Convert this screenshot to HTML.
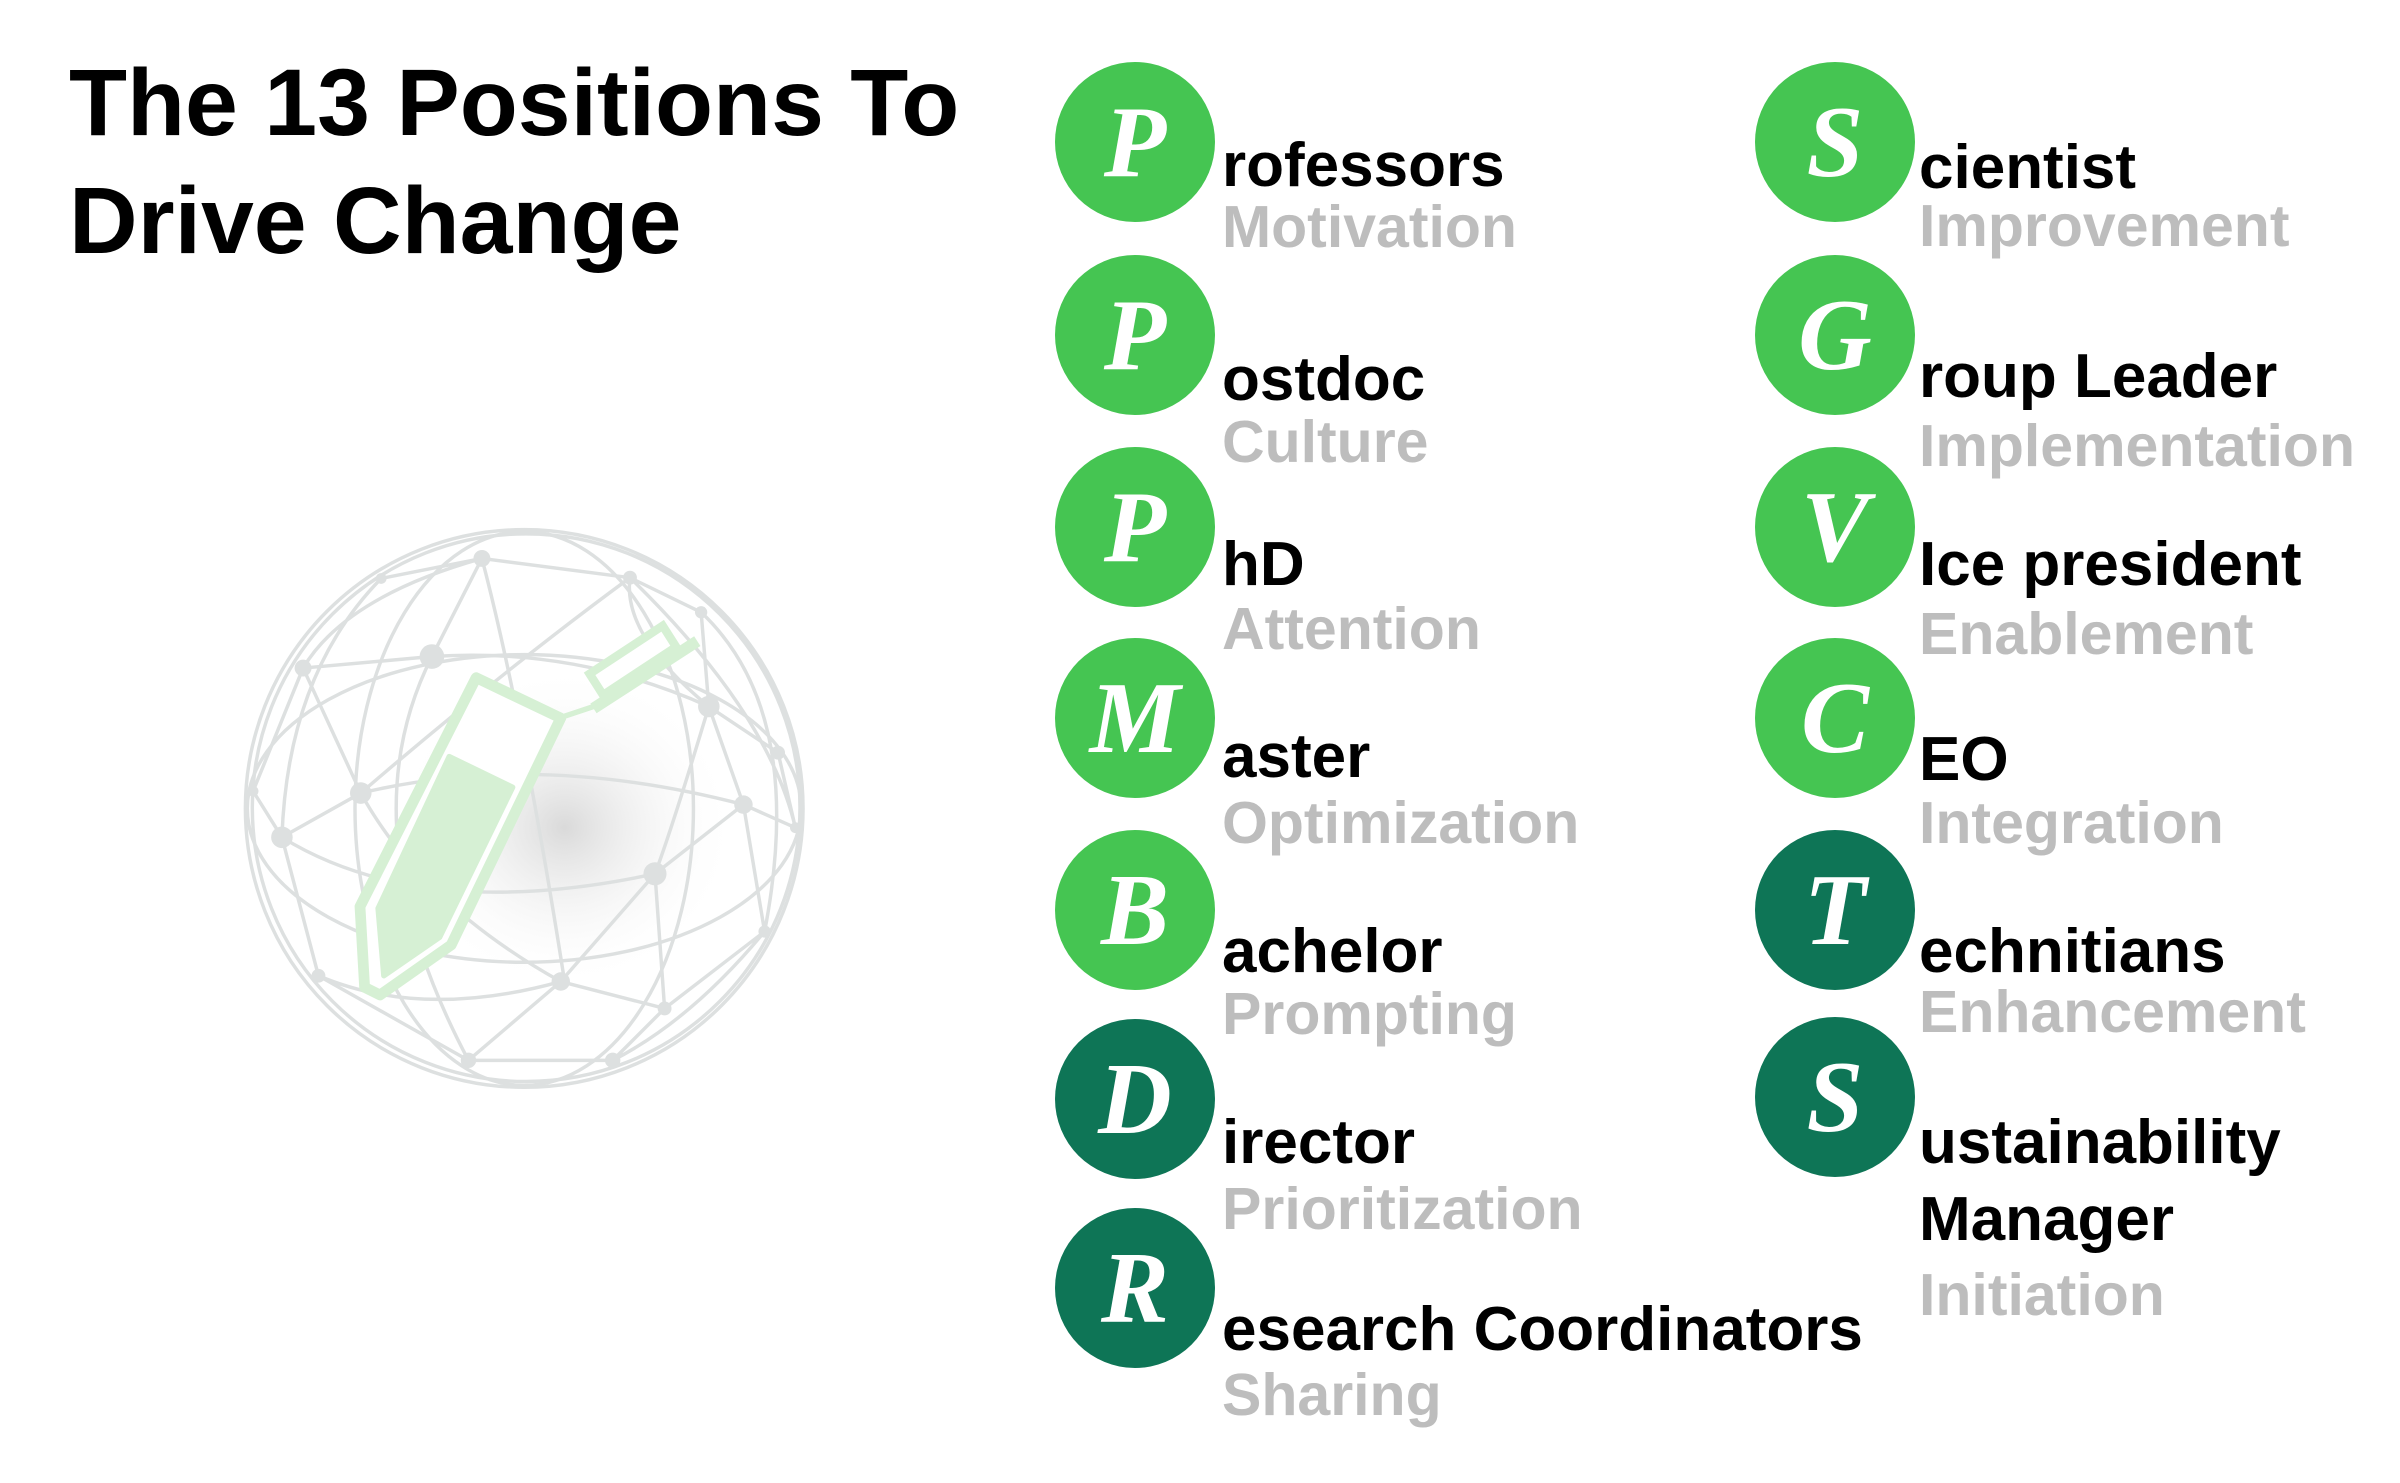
<!DOCTYPE html>
<html><head><meta charset="utf-8"><style>
html,body{margin:0;padding:0;background:#fff;}
svg{display:block;}
.t{font-family:"Liberation Sans",sans-serif;font-weight:bold;}
.b{font-size:62px;fill:#000;}
.g{font-size:59px;fill:#bdbdbd;}
.L{font-family:"Liberation Serif",serif;font-style:italic;font-weight:bold;font-size:102px;fill:#fff;}
</style></head><body>
<svg width="2400" height="1483" viewBox="0 0 2400 1483" xmlns="http://www.w3.org/2000/svg">
<rect width="2400" height="1483" fill="#fff"/>
<text class="t" x="69" y="135" font-size="95" fill="#000">The 13 Positions To</text>
<text class="t" x="69" y="253" font-size="95" fill="#000">Drive Change</text>

<defs><radialGradient id="sh" cx="0.5" cy="0.5" r="0.5">
<stop offset="0" stop-color="#d0d0d0" stop-opacity="0.8"/><stop offset="1" stop-color="#fff" stop-opacity="0"/></radialGradient></defs>
<g transform="translate(230,520) scale(0.3846)" fill="none" stroke="#dde0e0" stroke-width="9">
<ellipse cx="870" cy="800" rx="450" ry="420" fill="url(#sh)" stroke="none"/>
<circle cx="765" cy="750" r="725"/>
<circle cx="770" cy="748" r="712"/>
<ellipse cx="765" cy="750" rx="440" ry="720"/>
<ellipse cx="765" cy="750" rx="720" ry="400"/>
<path d="M655 100 L393 152 M655 100 L1040 150 M1040 150 L1225 240 M655 100 L525 355 M655 100 Q760 500 870 1200 M525 355 L190 385 M525 355 Q900 330 1245 485 M1040 150 Q700 400 340 710 M1040 150 Q1020 300 1245 485 M1225 240 L1245 485 M1245 485 L1425 605 M1245 485 L1335 740 M1245 485 Q1150 800 1105 920 M190 385 L60 705 M190 385 L340 710 M190 385 Q300 200 655 100 M340 710 L135 825 M340 710 Q800 600 1335 740 M340 710 Q500 1000 860 1200 M1335 740 L1470 800 M1335 740 L1105 920 M1335 740 L1390 1070 M1425 605 L1470 800 M135 825 L230 1185 M135 825 Q500 1050 1105 920 M1105 920 L860 1200 M1105 920 L1130 1270 M1390 1070 L1130 1270 M1390 1070 Q1200 1300 995 1405 M860 1200 L620 1405 M860 1200 L1130 1270 M860 1200 Q500 1300 230 1185 M620 1405 L995 1405 M230 1185 L620 1405 M1130 1270 L995 1405 M60 705 L135 825 M393 152 Q150 400 135 825 M1225 240 Q1500 500 1390 1070 M525 355 Q300 800 620 1405 M1040 150 Q1400 500 1470 800"/>
<g fill="#dde0e0" stroke="none">
<circle cx="655" cy="100" r="22"/><circle cx="393" cy="152" r="14"/><circle cx="1040" cy="150" r="18"/><circle cx="1225" cy="240" r="16"/><circle cx="525" cy="355" r="32"/><circle cx="190" cy="385" r="22"/><circle cx="1245" cy="485" r="28"/><circle cx="1425" cy="605" r="18"/><circle cx="60" cy="705" r="14"/><circle cx="340" cy="710" r="28"/><circle cx="1335" cy="740" r="24"/><circle cx="135" cy="825" r="28"/><circle cx="1470" cy="800" r="14"/><circle cx="1105" cy="920" r="30"/><circle cx="1390" cy="1070" r="16"/><circle cx="230" cy="1185" r="18"/><circle cx="860" cy="1200" r="24"/><circle cx="1130" cy="1270" r="18"/><circle cx="620" cy="1405" r="20"/><circle cx="995" cy="1405" r="20"/>
</g>
<path d="M640 410 L860 515 L575 1105 L390 1235 L350 1215 L338 1005 Z" fill="#fff" stroke="#d6f0d4" stroke-width="28" stroke-linejoin="round"/>
<path d="M570 615 L735 695 L545 1085 L400 1185 L385 1010 Z" fill="#d6f0d4" stroke="#d6f0d4" stroke-width="14" stroke-linejoin="round"/>
<path d="M870 510 L945 485" stroke="#d6f0d4" stroke-width="14"/>
<path d="M935 400 L1125 275 L1160 330 L970 455 Z" fill="#fff" stroke="#d6f0d4" stroke-width="22"/>
<path d="M945 490 L1215 315" stroke="#d6f0d4" stroke-width="30"/>
</g>

<g>
<circle cx="1135" cy="142" r="80" fill="#45c552"/><text class="L" x="1135" y="176" text-anchor="middle">P</text>
<circle cx="1135" cy="335" r="80" fill="#45c552"/><text class="L" x="1135" y="369" text-anchor="middle">P</text>
<circle cx="1135" cy="527" r="80" fill="#45c552"/><text class="L" x="1135" y="561" text-anchor="middle">P</text>
<circle cx="1135" cy="718" r="80" fill="#45c552"/><text class="L" x="1135" y="752" text-anchor="middle">M</text>
<circle cx="1135" cy="910" r="80" fill="#45c552"/><text class="L" x="1135" y="944" text-anchor="middle">B</text>
<circle cx="1135" cy="1099" r="80" fill="#0e7556"/><text class="L" x="1135" y="1133" text-anchor="middle">D</text>
<circle cx="1135" cy="1288" r="80" fill="#0e7556"/><text class="L" x="1135" y="1322" text-anchor="middle">R</text>

<circle cx="1835" cy="142" r="80" fill="#45c552"/><text class="L" x="1835" y="176" text-anchor="middle">S</text>
<circle cx="1835" cy="335" r="80" fill="#45c552"/><text class="L" x="1835" y="369" text-anchor="middle">G</text>
<circle cx="1835" cy="527" r="80" fill="#45c552"/><text class="L" x="1835" y="561" text-anchor="middle">V</text>
<circle cx="1835" cy="718" r="80" fill="#45c552"/><text class="L" x="1835" y="752" text-anchor="middle">C</text>
<circle cx="1835" cy="910" r="80" fill="#0e7556"/><text class="L" x="1835" y="944" text-anchor="middle">T</text>
<circle cx="1835" cy="1097" r="80" fill="#0e7556"/><text class="L" x="1835" y="1131" text-anchor="middle">S</text>
</g>

<g class="t">
<text class="b" x="1222" y="186">rofessors</text><text class="g" x="1222" y="247">Motivation</text>
<text class="b" x="1222" y="400">ostdoc</text><text class="g" x="1222" y="462">Culture</text>
<text class="b" x="1222" y="585">hD</text><text class="g" x="1222" y="649">Attention</text>
<text class="b" x="1222" y="777">aster</text><text class="g" x="1222" y="843">Optimization</text>
<text class="b" x="1222" y="972">achelor</text><text class="g" x="1222" y="1034">Prompting</text>
<text class="b" x="1222" y="1163">irector</text><text class="g" x="1222" y="1229">Prioritization</text>
<text class="b" x="1222" y="1350">esearch Coordinators</text><text class="g" x="1222" y="1415">Sharing</text>

<text class="b" x="1919" y="188">cientist</text><text class="g" x="1919" y="246">Improvement</text>
<text class="b" x="1919" y="397">roup Leader</text><text class="g" x="1919" y="466">Implementation</text>
<text class="b" x="1919" y="585">Ice president</text><text class="g" x="1919" y="654">Enablement</text>
<text class="b" x="1919" y="780">EO</text><text class="g" x="1919" y="843">Integration</text>
<text class="b" x="1919" y="972">echnitians</text><text class="g" x="1919" y="1032">Enhancement</text>
<text class="b" x="1919" y="1163">ustainability</text>
<text class="b" x="1919" y="1240">Manager</text><text class="g" x="1919" y="1315">Initiation</text>
</g>
</svg>
</body></html>
